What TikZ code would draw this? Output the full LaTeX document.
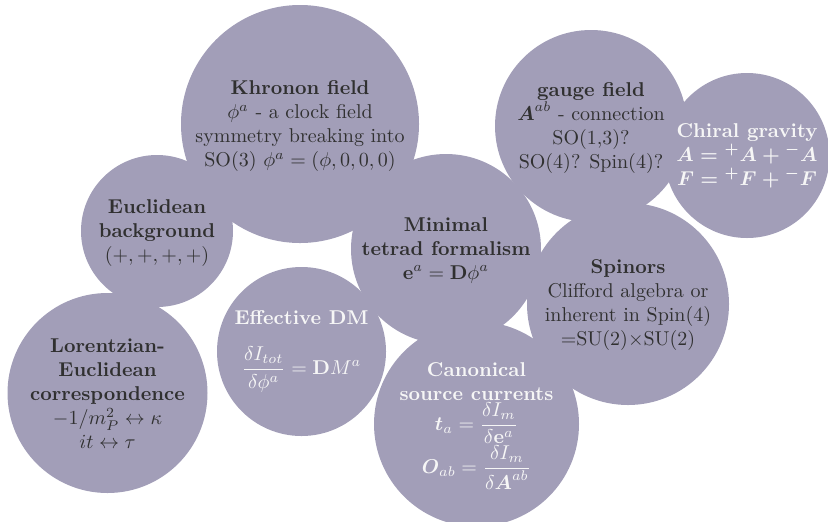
\documentclass[tikz,border=0pt]{standalone}
\usepackage{amsmath}
\definecolor{bubblefill}{RGB}{162,158,184}
\definecolor{darktext}{RGB}{48,48,48}
\definecolor{lighttext}{RGB}{246,246,246}
\tikzset{
  bubble/.style={circle, fill=bubblefill, draw=none, inner sep=0pt},
  darklabel/.style={align=center, text=darktext, inner sep=0pt},
  lightlabel/.style={align=center, text=lighttext, inner sep=0pt}
}
\begin{document}
\begin{tikzpicture}[x=0.5pt,y=-0.5pt]
\useasboundingbox (0,0) rectangle (828,521);
% bubbles (minimum size in pt = radius in px)
\node[bubble, minimum size=119pt] (khronon) at (300,124) {};
\node[bubble, minimum size=76pt] (euclid) at (157,231) {};
\node[bubble, minimum size=96pt] (gauge) at (591,126) {};
\node[bubble, minimum size=82.5pt] (chiral) at (747,155.5) {};
\node[bubble, minimum size=95pt] (minimal) at (446,249) {};
\node[bubble, minimum size=101pt] (spinors) at (628,304) {};
\node[bubble, minimum size=84.5pt] (effdm) at (301.5,351.5) {};
\node[bubble, minimum size=102.5pt] (canon) at (476.5,424) {};
\node[bubble, minimum size=100pt] (lorentz) at (107.5,393) {};
% labels
\node[darklabel, yshift=-1pt] (khronon-t) at (khronon) {\textbf{Khronon field}\\ $\phi^a$ - a clock field\\ symmetry breaking into\\ SO(3) $\phi^a=(\phi,0,0,0)$};
\node[darklabel, yshift=-1pt] (euclid-t) at (euclid) {\textbf{Euclidean}\\ \textbf{background}\\ $(+,+,+,+)$};
\node[darklabel, yshift=-1pt] (gauge-t) at (gauge) {\textbf{gauge field}\\ $\boldsymbol{A}^{ab}$ - connection\\ SO(1,3)?\\ SO(4)? Spin(4)?};
\node[lightlabel, font=\bfseries\boldmath] (chiral-t) at (chiral) {Chiral gravity\\ $A={}^{+}A+{}^{-}A$\\ $F={}^{+}F+{}^{-}F$};
\node[darklabel, yshift=-0.5pt] (minimal-t) at (minimal) {\textbf{Minimal}\\ \textbf{tetrad formalism}\\ $\mathbf{e}^a=\mathbf{D}\phi^a$};
\node[darklabel, yshift=-0.5pt] (spinors-t) at (spinors) {\textbf{Spinors}\\ Clifford algebra or\\ inherent in Spin(4)\\ =SU(2)$\times$SU(2)};
\node[lightlabel] (effdm-t) at (effdm) {\textbf{Effective DM}\\[10pt] $\displaystyle\frac{\delta I_{tot}}{\delta\phi^a}=\mathbf{D}M^a$};
\node[lightlabel, yshift=-1pt] (canon-t) at (canon) {\textbf{Canonical}\\ \textbf{source currents}\\ $\displaystyle\boldsymbol{t}_a=\frac{\delta I_m}{\delta\mathbf{e}^a}$\\ $\displaystyle\boldsymbol{O}_{ab}=\frac{\delta I_m}{\delta\boldsymbol{A}^{ab}}$};
\node[darklabel, yshift=-0.5pt] (lorentz-t) at (lorentz) {\textbf{Lorentzian-}\\ \textbf{Euclidean}\\ \textbf{correspondence}\\ $-1/m_P^2\leftrightarrow\kappa$\\ $it\leftrightarrow\tau$};
\end{tikzpicture}
\end{document}
